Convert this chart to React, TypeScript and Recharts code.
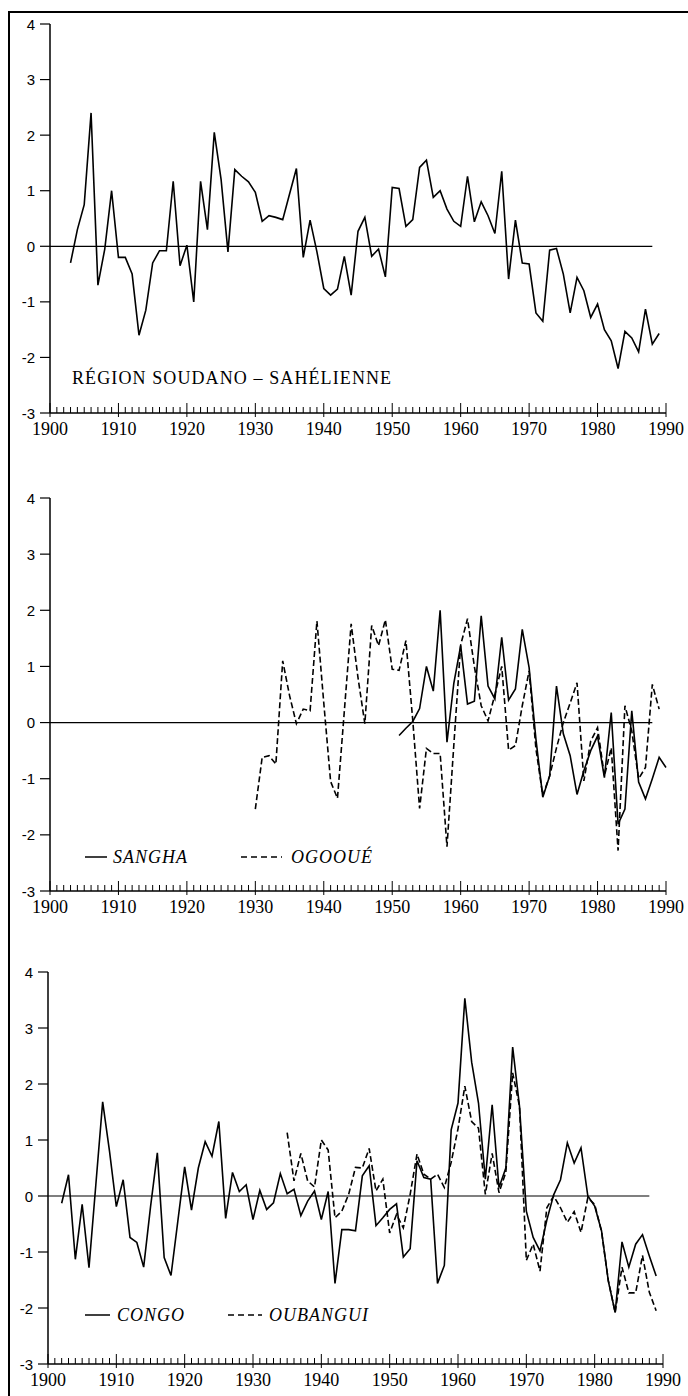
import { LineChart, Line, XAxis, YAxis, ReferenceLine } from 'recharts';

// standardised annual indices
const SAHEL_START = 1903;
const SAHEL = [
  -0.3, 0.3, 0.75, 2.4, -0.7, -0.05, 1.0, -0.2, -0.2, -0.5,
  -1.6, -1.15, -0.3, -0.08, -0.08, 1.17, -0.35, 0.02, -1.0, 1.17,
  0.3, 2.05, 1.2, -0.1, 1.38, 1.26, 1.16, 0.97, 0.45, 0.55,
  0.52, 0.48, 0.94, 1.4, -0.2, 0.47, -0.1, -0.76, -0.88, -0.77,
  -0.18, -0.88, 0.27, 0.52, -0.18, -0.05, -0.55, 1.06, 1.04, 0.36,
  0.48, 1.42, 1.55, 0.88, 1.0, 0.67, 0.45, 0.36, 1.26, 0.44,
  0.8, 0.55, 0.23, 1.35, -0.59, 0.47, -0.3, -0.32, -1.2, -1.35,
  -0.07, -0.04, -0.5, -1.2, -0.56, -0.8, -1.28, -1.04, -1.5, -1.7,
  -2.2, -1.53, -1.65, -1.9, -1.13, -1.76, -1.57,
];

const SANGHA_START = 1951;
const SANGHA = [
  -0.23, -0.1, 0.02, 0.25, 1.0, 0.56, 2.0, -0.35, 0.7, 1.37,
  0.33, 0.38, 1.9, 0.65, 0.42, 1.52, 0.4, 0.6, 1.66, 0.98,
  -0.3, -1.33, -0.95, 0.65, -0.2, -0.59, -1.28, -0.86, -0.5, -0.24,
  -0.98, 0.18, -1.81, -1.54, 0.21, -1.06, -1.36, -1.0, -0.62, -0.8,
];

const OGOOUE_START = 1930;
const OGOOUE = [
  -1.54, -0.62, -0.59, -0.74, 1.1, 0.48, -0.02, 0.24, 0.21, 1.81,
  0.35, -1.05, -1.35, 0.2, 1.76, 0.8, -0.02, 1.73, 1.37, 1.83,
  0.95, 0.93, 1.46, 0.04, -1.53, -0.46, -0.55, -0.55, -2.21, -0.4,
  1.38, 1.85, 1.0, 0.3, 0.03, 0.5, 1.0, -0.49, -0.41, 0.3,
  0.92, -0.47, -1.3, -0.95, -0.45, 0.0, 0.35, 0.71, -1.04, -0.33,
  -0.09, -0.95, -0.45, -2.28, 0.3, -0.15, -1.0, -0.8, 0.68, 0.24,
];

const CONGO_START = 1902;
const CONGO = [
  -0.13, 0.38, -1.13, -0.15, -1.28, 0.2, 1.68, 0.8, -0.19, 0.29,
  -0.74, -0.83, -1.27, -0.2, 0.77, -1.1, -1.42, -0.45, 0.52, -0.25,
  0.5, 0.97, 0.71, 1.33, -0.4, 0.42, 0.08, 0.2, -0.42, 0.1,
  -0.24, -0.12, 0.4, 0.04, 0.12, -0.35, -0.09, 0.09, -0.42, 0.08,
  -1.56, -0.6, -0.6, -0.62, 0.36, 0.54, -0.53, -0.39, -0.24, -0.14,
  -1.09, -0.94, 0.63, 0.33, 0.3, -1.56, -1.24, 1.18, 1.66, 3.53,
  2.39, 1.66, 0.3, 1.63, 0.15, 0.5, 2.66, 1.6, -0.27, -0.74,
  -0.98, -0.43, 0.02, 0.29, 0.95, 0.59, 0.86, 0.0, -0.18, -0.62,
  -1.52, -2.08, -0.82, -1.27, -0.86, -0.69, -1.07, -1.43,
];

const OUBANGUI_START = 1935;
const OUBANGUI = [
  1.13, 0.27, 0.76, 0.27, 0.16, 1.0, 0.82, -0.39, -0.27, 0.03,
  0.51, 0.5, 0.85, 0.09, 0.3, -0.66, -0.33, -0.57, 0.03, 0.75,
  0.39, 0.3, 0.39, 0.15, 0.6, 1.2, 1.96, 1.33, 1.21, 0.03,
  0.76, 0.06, 0.42, 2.2, 1.6, -1.15, -0.86, -1.34, -0.21, 0.0,
  -0.21, -0.47, -0.28, -0.65, -0.03, -0.15, -0.63, -1.51, -2.08, -1.27,
  -1.73, -1.73, -1.06, -1.72, -2.05,
];

const FIRST_YEAR = 1900;
const LAST_YEAR = 1990;
const ZERO_LINE_END = 1988;
const VALUE_TICKS = [-3, -2, -1, 0, 1, 2, 3, 4];
const YEAR_TICKS = Array.from({ length: LAST_YEAR - FIRST_YEAR + 1 }, (_, i) => FIRST_YEAR + i);

type Series = { key: string; start: number; values: number[]; dashed?: boolean };

function buildRows(series: Series[]) {
  const rows: Record<string, number | null>[] = [];
  for (let year = FIRST_YEAR; year <= LAST_YEAR; year++) {
    const row: Record<string, number | null> = { year };
    for (const s of series) {
      const i = year - s.start;
      row[s.key] = i >= 0 && i < s.values.length ? s.values[i] : null;
    }
    rows.push(row);
  }
  return rows;
}

function YearTick({ x, y, payload }: any) {
  const year = payload.value;
  const major = year % 10 === 0;
  return (
    <g>
      <line x1={x} x2={x} y1={y - (major ? 10 : 6)} y2={y + (major ? 4 : 0)} stroke='#000' strokeWidth={1} />
      {major && (
        <text x={x} y={y + 22} textAnchor='middle' fontFamily='Liberation Serif' fontSize={18} fill='#000'>
          {year}
        </text>
      )}
    </g>
  );
}

function ValueTick({ x, y, payload }: any) {
  return (
    <g>
      <line x1={x - 10} x2={x} y1={y} y2={y} stroke='#000' strokeWidth={1.2} />
      <text
        x={x - 15}
        y={y}
        textAnchor='end'
        dominantBaseline='central'
        fontFamily='Liberation Sans'
        fontSize={15}
        fill='#000'
      >
        {String(payload.value)}
      </text>
    </g>
  );
}

type PanelProps = {
  top: number;
  height: number;
  axisWidth: number;
  rightMargin: number;
  series: Series[];
};

function Panel({ top, height, axisWidth, rightMargin, series }: PanelProps) {
  const data = buildRows(series);
  return (
    <div style={{ position: 'absolute', left: 0, top }}>
      <LineChart width={688} height={height} data={data} margin={{ top: 10, right: rightMargin, bottom: 0, left: 0 }}>
        <XAxis
          dataKey='year'
          type='number'
          domain={[FIRST_YEAR, LAST_YEAR]}
          ticks={YEAR_TICKS}
          interval={0}
          height={34}
          tickSize={0}
          tickMargin={0}
          tickLine={false}
          axisLine={{ stroke: '#000', strokeWidth: 1.5 }}
          tick={<YearTick />}
        />
        <YAxis
          type='number'
          domain={[-3, 4]}
          ticks={VALUE_TICKS}
          interval={0}
          width={axisWidth}
          tickSize={0}
          tickMargin={0}
          tickLine={false}
          axisLine={{ stroke: '#000', strokeWidth: 1.5 }}
          tick={<ValueTick />}
        />
        <ReferenceLine
          segment={[
            { x: FIRST_YEAR, y: 0 },
            { x: ZERO_LINE_END, y: 0 },
          ]}
          stroke='#000'
          strokeWidth={1.2}
        />
        {series.map(s => (
          <Line
            key={s.key}
            type='linear'
            dataKey={s.key}
            stroke='#000'
            strokeWidth={1.6}
            strokeDasharray={s.dashed ? '6 3' : undefined}
            dot={false}
            activeDot={false}
            isAnimationActive={false}
          />
        ))}
      </LineChart>
    </div>
  );
}

const serif = "'Liberation Serif', 'Times New Roman', serif";

function LegendItem({ left, top, lineFrom, lineTo, dashed, label }: any) {
  return (
    <>
      <svg style={{ position: 'absolute', left: 0, top: top - 2 }} width={688} height={4}>
        <line
          x1={lineFrom}
          x2={lineTo}
          y1={2}
          y2={2}
          stroke='#000'
          strokeWidth={1.5}
          strokeDasharray={dashed ? '6 4' : undefined}
        />
      </svg>
      <div
        style={{
          position: 'absolute',
          left,
          top: top - 9,
          fontFamily: serif,
          fontStyle: 'italic',
          fontSize: 18,
          lineHeight: '18px',
          letterSpacing: 1,
          whiteSpace: 'nowrap',
          color: '#000',
        }}
      >
        {label}
      </div>
    </>
  );
}

export default function App() {
  return (
    <div style={{ position: 'absolute', left: 0, top: 0, width: 688, height: 1396, background: '#fff', overflow: 'hidden' }}>
      <div
        style={{
          position: 'absolute',
          left: 8,
          top: 11,
          width: 700,
          height: 1400,
          borderTop: '2px solid #000',
          borderLeft: '2px solid #000',
        }}
      />
      <Panel
        top={14}
        height={433}
        axisWidth={50}
        rightMargin={22}
        series={[{ key: 'sahel', start: SAHEL_START, values: SAHEL }]}
      />
      <div
        style={{
          position: 'absolute',
          left: 72,
          top: 369,
          fontFamily: serif,
          fontSize: 18,
          lineHeight: '18px',
          letterSpacing: 1.1,
          whiteSpace: 'nowrap',
          color: '#000',
        }}
      >
        RÉGION SOUDANO – SAHÉLIENNE
      </div>

      <Panel
        top={488}
        height={437}
        axisWidth={50}
        rightMargin={22}
        series={[
          { key: 'sangha', start: SANGHA_START, values: SANGHA },
          { key: 'ogooue', start: OGOOUE_START, values: OGOOUE, dashed: true },
        ]}
      />
      <LegendItem left={113} top={857} lineFrom={85} lineTo={107} label='SANGHA' />
      <LegendItem left={291} top={857} lineFrom={241} lineTo={282} dashed label='OGOOUÉ' />

      <Panel
        top={962}
        height={436}
        axisWidth={48}
        rightMargin={25}
        series={[
          { key: 'congo', start: CONGO_START, values: CONGO },
          { key: 'oubangui', start: OUBANGUI_START, values: OUBANGUI, dashed: true },
        ]}
      />
      <LegendItem left={117} top={1315} lineFrom={85} lineTo={110} label='CONGO' />
      <LegendItem left={269} top={1315} lineFrom={228} lineTo={262} dashed label='OUBANGUI' />
    </div>
  );
}
